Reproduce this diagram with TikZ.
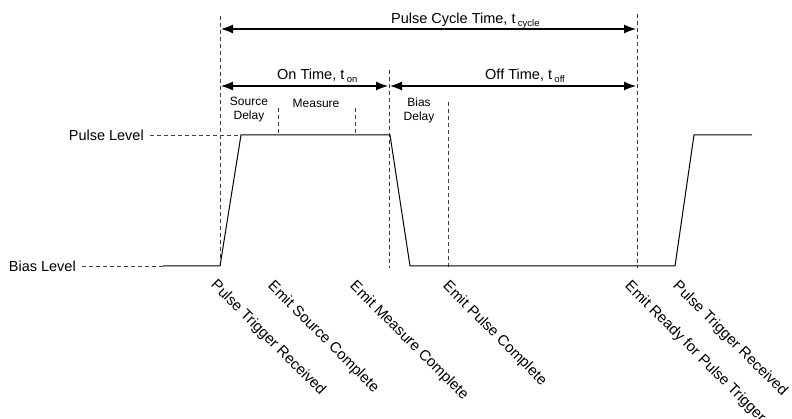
\documentclass[tikz,border=0pt]{standalone}
\usepackage{fontspec}
\setmainfont{Liberation Sans}
\usetikzlibrary{arrows.meta}
\usetikzlibrary{positioning}
\usetikzlibrary{calc}

\begin{document}
\begin{tikzpicture}[x=1pt,y=-1pt,
  guide/.style={gray!50!black,line width=0.8pt,dash pattern=on 4pt off 3pt},
  span/.style={{Latex[length=12pt,width=9pt]}-{Latex[length=12pt,width=9pt]},line width=1.1pt},
  wave/.style={line width=1pt,line join=miter},
  big/.style={font=\fontsize{14.5}{17}\selectfont,inner sep=0pt},
  small/.style={font=\fontsize{12}{14}\selectfont,inner sep=0pt,align=center},
  event/.style={font=\fontsize{15}{17}\selectfont,inner sep=0pt,rotate=-45,anchor=north west}]
\useasboundingbox (0,0) rectangle (792,419);

\coordinate (trig-top) at (220,16);
\coordinate (trig-bot) at (220,268);
\coordinate (src-top) at (278,108);
\coordinate (src-bot) at (278,135);
\coordinate (meas-top) at (355,108);
\coordinate (meas-bot) at (355,135);
\coordinate (off-top) at (389,70);
\coordinate (off-bot) at (389,268);
\coordinate (bias-top) at (448,102);
\coordinate (bias-bot) at (448,268);
\coordinate (rdy-top) at (637,14);
\coordinate (rdy-bot) at (637,268);

\draw[guide] (trig-top) -- (trig-bot);
\draw[guide] (src-top) -- (src-bot);
\draw[guide] (meas-top) -- (meas-bot);
\draw[guide] (off-top) -- (off-bot);
\draw[guide] (bias-top) -- (bias-bot);
\draw[guide] (rdy-top) -- (rdy-bot);

\coordinate (bias-l) at (163,266);
\coordinate (rise-b) at (220,266);
\coordinate (rise-t) at (241,135);
\coordinate (fall-t) at (390,135);
\coordinate (fall-b) at (410,266);
\coordinate (rise2-b) at (675,266);
\coordinate (rise2-t) at (694,135);
\coordinate (pulse-r) at (752,135);
\draw[wave] (bias-l) -- (rise-b) -- (rise-t) -- (fall-t) -- (fall-b) -- (rise2-b) -- (rise2-t) -- (pulse-r);

\node[big,anchor=east] (pulse) at (144,135) {Pulse Level};
\node[big,anchor=east] (bias) at (76,266) {Bias Level};
\draw[guide] ([xshift=6pt]pulse.east) -- (rise-t);
\draw[guide] ([xshift=6pt]bias.east) -- (bias-l);

\coordinate (cyc-l) at (221,29);
\coordinate (cyc-r) at (636,29);
\coordinate (on-l) at (221,86);
\coordinate (on-r) at (388,86);
\coordinate (off-l) at (390,86);
\coordinate (off-r) at (636,86);
\draw[span] (cyc-l) -- (cyc-r);
\draw[span] (on-l) -- (on-r);
\draw[span] (off-l) -- (off-r);

\node[big,anchor=base west] (cyc) at (391,24) {Pulse Cycle Time, t\,\raisebox{-0.35ex}{\fontsize{9.5}{10}\selectfont cycle}};
\node[big,anchor=base west] (ontime) at (277,80) {On Time, t\,\raisebox{-0.35ex}{\fontsize{9.5}{10}\selectfont on}};
\node[big,anchor=base west] (offtime) at (485,80) {Off Time, t\,\raisebox{-0.35ex}{\fontsize{9.5}{10}\selectfont off}};

\node[small] (srcdelay) at (249,110) {Source\\Delay};
\node[small] (measure) at (316,103) {Measure};
\node[small] (biasdelay) at (419,110) {Bias\\Delay};

\node[event] (ev-trig) at (218,278) {Pulse Trigger Received};
\node[event] (ev-src) at (275,279) {Emit Source Complete};
\node[event] (ev-meas) at (357,279) {Emit Measure Complete};
\node[event] (ev-pulse) at (450,279) {Emit Pulse Complete};
\node[event] (ev-rdy) at (632,279) {Emit Ready for Pulse Trigger};
\node[event] (ev-trig2) at (680,279) {Pulse Trigger Received};
\end{tikzpicture}
\end{document}
